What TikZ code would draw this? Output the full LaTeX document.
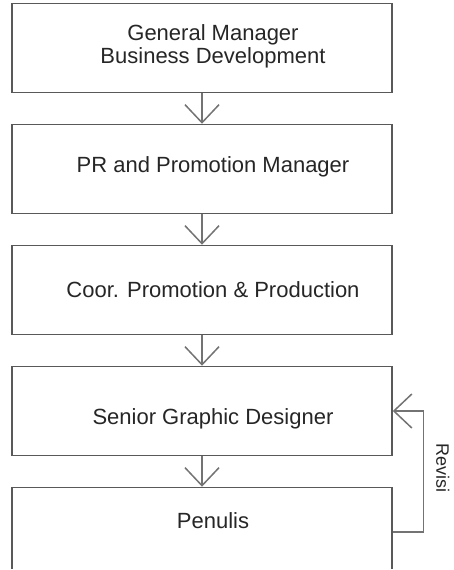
\documentclass[tikz,border=0pt]{standalone}
\usepackage{fontspec}
\setmainfont{Liberation Sans}
\usetikzlibrary{positioning, arrows.meta, calc}
% text sits a little right of (and sometimes above/below) the box centre
\newcommand{\boxline}[2][0pt]{\hspace*{5.5pt}\raisebox{#1}[\height][\depth]{#2}\hspace*{-5.5pt}}

\begin{document}
\begin{tikzpicture}[node distance=15.25pt,
	box/.style={draw=black!65, line width=0.75pt, minimum width=190pt, minimum height=44.5pt,
		inner sep=0pt, align=center, font=\fontsize{11}{11.5}\selectfont, text=black!85},
	flow/.style={-{Straight Barb[length=9pt,width=17pt]}, draw=black!55, line width=0.75pt},
	lbl/.style={font=\fontsize{9}{10}\selectfont, text=black!85, inner sep=0pt}]
	\useasboundingbox (0,0) rectangle (227pt,-285pt);
	\clip (0,0) rectangle (227pt,-284pt);
	\node[box] (gm) at (101pt,-24pt) {\boxline[1pt]{General Manager}\\\boxline[1pt]{Business Development}};
	\node[box, below =of gm] (pr) {\boxline[1pt]{PR and Promotion Manager}};
	\node[box, below =of pr] (coor) {\boxline{Coor. Promotion \& Production}};
	\node[box, below =of coor] (sgd) {\boxline[-4pt]{Senior Graphic Designer}};
	\node[box, below =of sgd] (pen) {\boxline[5.5pt]{Penulis}};
	\foreach \a/\b in {gm/pr, pr/coor, coor/sgd, sgd/pen}
		\draw[flow] (\a) -- (\b);
	% revisi loop
	\draw[flow] (pen.east) -- ++(15.5pt,0) coordinate (bend) |- (sgd.east);
	\node[lbl, rotate=-90] (rev) at ($(bend)!0.53!(bend |- sgd.east) + (9.5pt,0)$) {Revisi};
\end{tikzpicture}
\end{document}
